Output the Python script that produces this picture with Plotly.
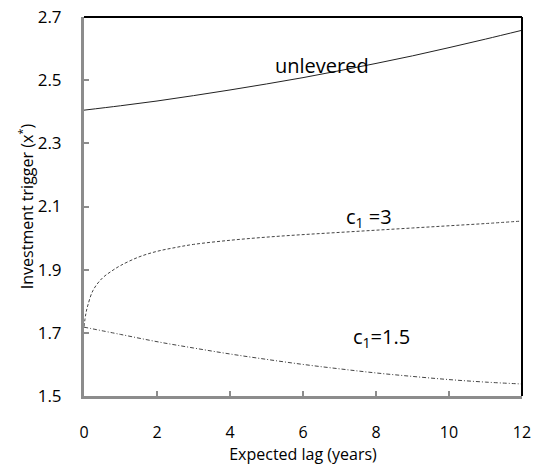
import plotly.graph_objects as go

# Expected lag (years) and investment trigger values for each case
lag_unlev = [0, 1, 2, 3, 4, 5, 6, 7, 8, 9, 10, 11, 12]
trig_unlev = [2.405, 2.419, 2.434, 2.451, 2.469, 2.488, 2.508, 2.530, 2.553, 2.577, 2.603, 2.630, 2.658]

lag_c3 = [0, 0.05, 0.1, 0.25, 0.5, 0.75, 1, 1.5, 2, 2.5, 3, 4, 5, 6, 7, 8, 9, 10, 11, 12]
trig_c3 = [1.72, 1.76, 1.785, 1.835, 1.873, 1.895, 1.913, 1.94, 1.958, 1.97, 1.98, 1.993,
           2.003, 2.011, 2.018, 2.025, 2.032, 2.039, 2.046, 2.054]

lag_c15 = [0, 1, 2, 3, 4, 5, 6, 7, 8, 9, 10, 11, 12]
trig_c15 = [1.718, 1.695, 1.672, 1.652, 1.633, 1.616, 1.600, 1.586, 1.573, 1.562, 1.552, 1.544, 1.538]

x_ticks = [0, 2, 4, 6, 8, 10, 12]
y_ticks = [1.5, 1.7, 1.9, 2.1, 2.3, 2.5, 2.7]

FONT = "Open Sans"
AXIS_GREY = "#8c8c8c"

fig = go.Figure()
fig.add_trace(go.Scatter(x=lag_unlev, y=trig_unlev, mode="lines",
                         line=dict(color="#222222", width=1, shape="spline")))
fig.add_trace(go.Scatter(x=lag_c3, y=trig_c3, mode="lines",
                         line=dict(color="#444444", width=1, dash="3px,2px", shape="spline")))
fig.add_trace(go.Scatter(x=lag_c15, y=trig_c15, mode="lines",
                         line=dict(color="#444444", width=1, dash="4px,2px,1px,2px",
                                   shape="spline")))

# Curve labels
labels = [
    (6.52, 2.548, "unlevered", 20),
    (7.8, 2.066, "c<sub>1</sub> =3", 20),
    (8.15, 1.686, "c<sub>1</sub>=1.5", 20),
]
for lx, ly, txt, sz in labels:
    fig.add_annotation(x=lx, y=ly, text=txt, showarrow=False,
                       font=dict(family=FONT, size=sz, color="#000000"))

# Black top and right frame edges
fig.add_shape(type="line", xref="paper", yref="paper", x0=0, x1=1, y0=1, y1=1,
              line=dict(color="#000000", width=2))
fig.add_shape(type="line", xref="paper", yref="paper", x0=1, x1=1, y0=0, y1=1,
              line=dict(color="#000000", width=2))

fig.update_layout(
    width=537, height=468,
    margin=dict(l=84, r=15, t=17, b=72, autoexpand=False),
    paper_bgcolor="white", plot_bgcolor="white",
    showlegend=False,
    font=dict(family=FONT, color="#000000"),
    xaxis=dict(range=[0, 12], tickvals=x_ticks, ticks="inside", ticklen=5,
               tickcolor=AXIS_GREY, tickwidth=2, showline=True, linecolor=AXIS_GREY,
               linewidth=3, showgrid=False, zeroline=False, ticklabelstandoff=20,
               automargin=False,
               tickfont=dict(size=16, family=FONT),
               title=dict(text="Expected lag (years)", font=dict(size=16, family=FONT),
                          standoff=2)),
    yaxis=dict(range=[1.5, 2.7], tickvals=y_ticks, tickformat=".1f", ticks="inside",
               ticklen=5, tickcolor=AXIS_GREY, tickwidth=2, showline=True,
               linecolor=AXIS_GREY, linewidth=3, showgrid=False, zeroline=False,
               ticklabelstandoff=16, automargin=False,
               tickfont=dict(size=17, family=FONT),
               title=dict(text="Investment trigger (x<sup>*</sup>)",
                          font=dict(size=16, family=FONT), standoff=0)),
)

fig.write_html("out.html")
